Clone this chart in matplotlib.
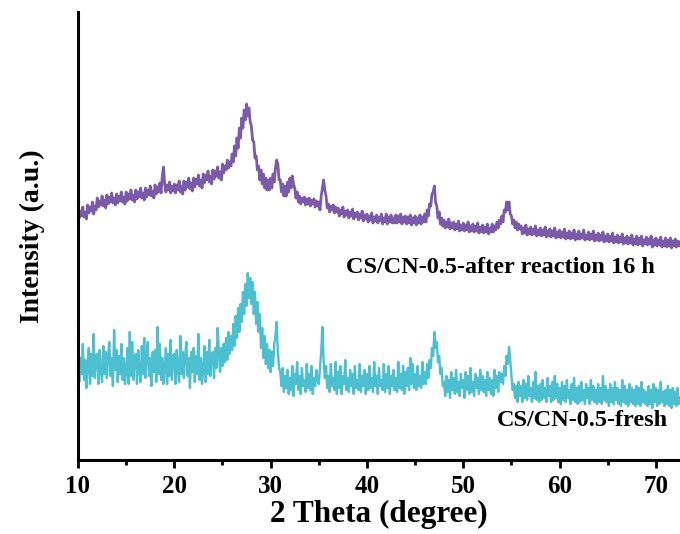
import numpy as np
import matplotlib.pyplot as plt

# 2-theta grid, 0.125 degree steps from 10 to 72.5
two_theta = np.arange(10.0, 72.5001, 0.125)

# CS/CN-0.5 after reaction 16 h (offset upward), 8 points per degree
after_reaction = [
    251, 242, 249, 244, 253, 243, 248, 241,
    255, 247, 253, 249, 258, 246, 254, 250,
    262, 253, 259, 255, 264, 254, 260, 252,
    265, 256, 263, 258, 267, 257, 262, 255,
    266, 257, 264, 259, 268, 258, 263, 256,
    268, 259, 266, 261, 270, 260, 265, 258,
    270, 261, 268, 263, 272, 262, 267, 260,
    272, 263, 270, 265, 274, 264, 269, 262,
    275, 266, 273, 268, 277, 267, 284, 293,
    276, 268, 275, 270, 278, 267, 274, 269,
    276, 267, 275, 270, 279, 268, 274, 266,
    279, 270, 278, 273, 282, 271, 277, 269,
    282, 273, 281, 276, 285, 274, 280, 272,
    286, 277, 285, 280, 289, 278, 284, 276,
    290, 281, 289, 284, 293, 282, 288, 280,
    296, 287, 294, 290, 300, 292, 298, 294,
    306, 298, 314, 304, 322, 312, 332, 322,
    342, 332, 350, 340, 356, 344, 352, 338,
    334, 320, 318, 302, 304, 290, 294, 280,
    290, 276, 286, 272, 282, 270, 280, 270,
    282, 272, 286, 278, 292, 300, 296, 280,
    280, 268, 276, 264, 274, 264, 278, 268,
    282, 272, 284, 276, 272, 262, 268, 258,
    264, 256, 262, 258, 263, 255, 261, 256,
    262, 254, 260, 256, 261, 253, 259, 254,
    258, 250, 264, 272, 280, 270, 264, 252,
    256, 248, 254, 250, 255, 247, 253, 248,
    252, 244, 250, 246, 253, 243, 249, 245,
    250, 242, 248, 244, 251, 241, 247, 243,
    248, 240, 246, 242, 249, 239, 245, 241,
    246, 238, 244, 240, 247, 237, 243, 239,
    245, 237, 243, 239, 246, 236, 242, 238,
    246, 236, 243, 238, 245, 237, 242, 237,
    245, 237, 244, 238, 246, 236, 243, 238,
    244, 236, 243, 237, 245, 235, 242, 237,
    244, 235, 242, 237, 245, 236, 243, 238,
    246, 238, 250, 244, 256, 254, 266, 268,
    274, 258, 254, 242, 248, 236, 242, 234,
    240, 232, 238, 233, 241, 231, 237, 232,
    238, 230, 236, 231, 239, 229, 235, 230,
    237, 229, 235, 230, 238, 228, 234, 229,
    236, 228, 234, 229, 237, 227, 233, 228,
    235, 227, 233, 228, 236, 226, 232, 228,
    236, 228, 234, 230, 238, 232, 240, 236,
    244, 238, 250, 248, 258, 250, 258, 246,
    244, 236, 240, 232, 238, 230, 236, 231,
    234, 226, 232, 227, 235, 225, 231, 226,
    233, 225, 231, 226, 234, 224, 230, 225,
    232, 224, 230, 225, 233, 223, 229, 224,
    231, 223, 229, 224, 232, 222, 228, 223,
    230, 222, 228, 223, 231, 221, 227, 222,
    229, 221, 227, 222, 230, 220, 226, 221,
    229, 221, 226, 222, 230, 220, 225, 221,
    228, 220, 226, 221, 229, 219, 225, 220,
    227, 219, 225, 220, 228, 218, 224, 219,
    226, 218, 224, 219, 227, 217, 223, 218,
    225, 217, 223, 218, 226, 216, 222, 217,
    224, 216, 222, 217, 225, 215, 221, 216,
    224, 215, 222, 216, 224, 214, 220, 216,
    223, 215, 221, 216, 224, 213, 220, 215,
    222, 214, 220, 215, 223, 213, 219, 214,
    222, 213, 220, 214, 222, 212, 219, 214,
    221, 213, 219, 214, 218,
]

# CS/CN-0.5 fresh, 8 points per degree
fresh = [
    108, 78, 102, 86, 116, 80, 100, 72,
    94, 112, 76, 106, 84, 126, 82, 104,
    106, 76, 110, 90, 78, 114, 86, 108,
    82, 104, 118, 84, 102, 74, 130, 90,
    110, 78, 104, 86, 116, 80, 102, 76,
    90, 112, 76, 128, 84, 118, 80, 104,
    106, 76, 110, 90, 78, 114, 86, 122,
    82, 104, 118, 84, 102, 74, 108, 88,
    110, 78, 133, 86, 116, 80, 102, 76,
    90, 112, 76, 106, 84, 120, 80, 104,
    106, 76, 110, 90, 78, 124, 86, 108,
    82, 104, 118, 84, 102, 72, 108, 88,
    112, 78, 104, 86, 126, 80, 102, 76,
    92, 114, 78, 108, 86, 120, 84, 106,
    108, 82, 112, 92, 132, 108, 88, 112,
    94, 116, 98, 122, 100, 128, 106, 124,
    110, 136, 114, 144, 122, 152, 128, 156,
    138, 168, 146, 176, 154, 187, 162, 182,
    156, 178, 146, 168, 136, 158, 128, 146,
    112, 132, 102, 124, 96, 116, 92, 110,
    88, 108, 94, 116, 124, 138, 108, 92,
    88, 74, 92, 68, 84, 72, 90, 66,
    82, 70, 94, 64, 86, 76, 98, 70,
    84, 66, 92, 74, 80, 68, 96, 72,
    86, 70, 94, 66, 82, 74, 90, 80,
    76, 92, 108, 133, 100, 82, 94, 72,
    84, 68, 96, 74, 82, 70, 98, 66,
    88, 72, 94, 66, 84, 76, 100, 70,
    82, 68, 90, 74, 86, 66, 94, 72,
    80, 70, 96, 68, 84, 74, 90, 66,
    86, 70, 94, 72, 82, 68, 98, 74,
    84, 66, 92, 74, 80, 70, 96, 68,
    86, 72, 94, 66, 84, 74, 90, 70,
    82, 68, 98, 72, 86, 70, 94, 66,
    88, 74, 92, 70, 102, 76, 96, 72,
    86, 70, 94, 74, 84, 72, 98, 76,
    88, 76, 96, 82, 100, 92, 112, 104,
    128, 112, 118, 98, 104, 86, 92, 74,
    78, 64, 84, 68, 80, 62, 88, 70,
    82, 66, 90, 68, 78, 64, 86, 72,
    80, 62, 88, 70, 84, 66, 92, 68,
    78, 64, 86, 72, 82, 66, 90, 70,
    84, 68, 80, 64, 88, 70, 82, 66,
    80, 64, 90, 72, 84, 68, 88, 78,
    86, 76, 94, 84, 104, 96, 113, 100,
    84, 70, 76, 62, 74, 58, 78, 64,
    74, 58, 80, 62, 76, 60, 84, 64,
    72, 58, 78, 62, 88, 60, 74, 58,
    76, 60, 80, 62, 72, 58, 82, 64,
    74, 58, 78, 60, 84, 62, 76, 58,
    72, 56, 78, 60, 74, 58, 80, 62,
    70, 56, 76, 60, 82, 58, 72, 56,
    74, 58, 78, 60, 70, 56, 76, 62,
    72, 56, 80, 60, 74, 58, 70, 56,
    76, 58, 72, 56, 84, 60, 74, 58,
    70, 54, 76, 58, 72, 56, 78, 60,
    72, 56, 70, 54, 80, 58, 74, 56,
    70, 54, 76, 58, 72, 56, 70, 54,
    74, 56, 72, 54, 78, 58, 70, 56,
    68, 54, 74, 56, 70, 52, 76, 58,
    72, 54, 70, 56, 78, 58, 68, 54,
    70, 56, 74, 54, 70, 52, 72, 56,
    68, 54, 72, 56, 62,
]

xticks = [10, 20, 30, 40, 50, 60, 70]

plt.rcParams['font.family'] = 'Liberation Serif'
plt.rcParams['font.weight'] = 'bold'

fig = plt.figure(figsize=(6.8, 5.34), dpi=100)
ax = fig.add_axes([0.1147, 0.1386, 0.8853, 0.8389])

ax.plot(two_theta, after_reaction, color='#7b5aaa', linewidth=2.0)
ax.plot(two_theta, fresh, color='#4cbfd0', linewidth=1.7)

ax.text(69.9, 192, 'CS/CN-0.5-after reaction 16 h', ha='right', va='center',
        fontsize=17.5, fontweight='bold')
ax.text(71.3, 39, 'CS/CN-0.5-fresh', ha='right', va='center',
        fontsize=17.5, fontweight='bold')

ax.set_xlim(10, 72.5)
ax.set_ylim(0, 448)

ax.spines['top'].set_visible(False)
ax.spines['right'].set_visible(False)
ax.spines['left'].set_linewidth(2.2)
ax.spines['bottom'].set_linewidth(2.2)

ax.set_xticks(xticks)
ax.set_xticks(np.arange(15, 75, 10), minor=True)
ax.set_yticks([])
ax.tick_params(axis='x', which='major', direction='out', length=6, width=2,
               labelsize=18, pad=5)
ax.tick_params(axis='x', which='minor', direction='out', length=3.5, width=2)
for lab in ax.get_xticklabels():
    lab.set_fontweight('bold')

ax.set_xlabel('2 Theta (degree)', fontsize=22.5, fontweight='bold', labelpad=1)
ax.set_ylabel('Intensity (a.u.)', fontsize=20, fontweight='bold', labelpad=24)

fig.savefig('out.png', dpi=100)
